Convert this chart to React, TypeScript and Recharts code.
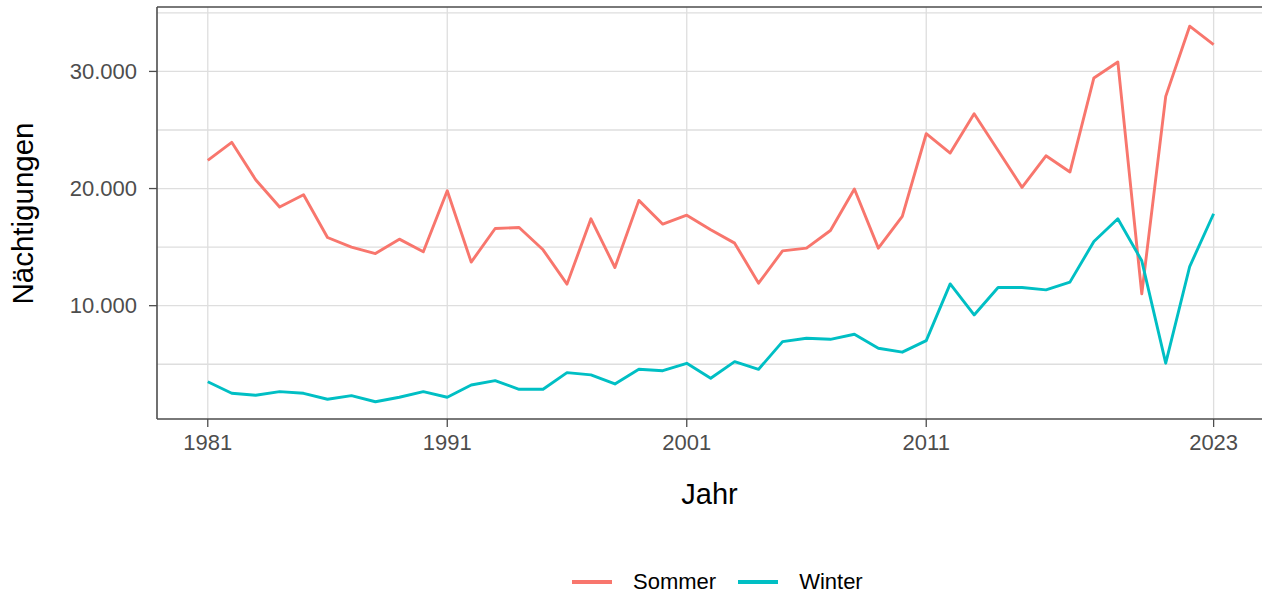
import { LineChart, Line, XAxis, YAxis, CartesianGrid, Legend } from 'recharts'

const years = [
  1981, 1982, 1983, 1984, 1985, 1986, 1987, 1988, 1989, 1990,
  1991, 1992, 1993, 1994, 1995, 1996, 1997, 1998, 1999, 2000,
  2001, 2002, 2003, 2004, 2005, 2006, 2007, 2008, 2009, 2010,
  2011, 2012, 2013, 2014, 2015, 2016, 2017, 2018, 2019, 2020,
  2021, 2022, 2023,
]

const sommer = [
  22400, 23950, 20750, 18420, 19470, 15820, 15000, 14450, 15680, 14600,
  19810, 13720, 16590, 16680, 14770, 11840, 17420, 13260, 18990, 16960,
  17730, 16480, 15340, 11920, 14680, 14910, 16420, 19960, 14910, 17620,
  24680, 23030, 26390, 23250, 20100, 22800, 21410, 29440, 30810, 11010,
  27870, 33860, 32290,
]

const winter = [
  3510, 2520, 2350, 2660, 2520, 2010, 2320, 1800, 2180, 2660,
  2180, 3230, 3600, 2860, 2860, 4280, 4090, 3320, 4570, 4450,
  5080, 3800, 5220, 4570, 6930, 7220, 7130, 7560, 6370, 6030,
  7020, 11860, 9210, 11550, 11550, 11350, 12010, 15480, 17420, 13830,
  5090, 13340, 17850,
]

const xTicks = [1981, 1991, 2001, 2011, 2023]
const yTicks = [10000, 20000, 30000]
const yGrid = [5000, 10000, 15000, 20000, 25000, 30000, 35000]

const data = years.map((year, i) => ({ year, Sommer: sommer[i], Winter: winter[i] }))

const FONT = '"Liberation Sans", Arial, sans-serif'
const AXIS = '#4d4d4d'
const GRID = '#dedede'

const fmt = (v: number) => String(v).replace(/\B(?=(\d{3})+(?!\d))/g, '.')

function LegendBox({ payload }: { payload?: Array<{ value: string; color: string }> }) {
  if (!payload) return null
  return (
    <div style={{ height: 34, paddingTop: 9, boxSizing: 'border-box', display: 'flex', justifyContent: 'flex-start', paddingLeft: 572 }}>
      {payload.map((p) => (
        <div key={p.value} style={{ display: 'flex', alignItems: 'center', height: 26, marginRight: 22 }}>
          <div style={{ width: 40, height: 4, background: p.color, marginRight: 21 }} />
          <span style={{ fontFamily: FONT, fontSize: 22, color: '#000', lineHeight: '26px' }}>{p.value}</span>
        </div>
      ))}
    </div>
  )
}

export default function App() {
  return (
    <div style={{ position: 'absolute', left: 0, top: 0, background: '#fff' }}>
      <LineChart width={1262} height={594} data={data} margin={{ top: 0, right: 0, left: 0, bottom: 0 }}>
        <CartesianGrid
          stroke={GRID}
          strokeWidth={1.3}
          horizontalValues={yGrid}
          verticalValues={xTicks}
        />
        <XAxis
          xAxisId="top"
          orientation="top"
          dataKey="year"
          type="number"
          domain={[1978.88, 2025.02]}
          height={7}
          tick={false}
          tickLine={false}
          axisLine={{ stroke: AXIS, strokeWidth: 1.6 }}
        />
        <XAxis
          dataKey="year"
          type="number"
          domain={[1978.88, 2025.02]}
          allowDataOverflow
          ticks={xTicks}
          interval={0}
          height={141}
          tickSize={8}
          tickMargin={7}
          axisLine={{ stroke: AXIS, strokeWidth: 1.6 }}
          tickLine={{ stroke: AXIS, strokeWidth: 1.3 }}
          tick={{ fill: AXIS, fontSize: 22, fontFamily: FONT }}
          label={(props: any) => {
            const vb = props.viewBox
            return (
              <text x={vb.x + vb.width / 2} y={504} textAnchor="middle" fontSize={29} fontFamily={FONT} fill="#000">
                Jahr
              </text>
            )
          }}
        />
        <YAxis
          type="number"
          domain={[325, 35500]}
          allowDataOverflow
          ticks={yTicks}
          interval={0}
          width={157}
          tickSize={8}
          tickMargin={12}
          tickFormatter={fmt}
          axisLine={{ stroke: AXIS, strokeWidth: 1.6 }}
          tickLine={{ stroke: AXIS, strokeWidth: 1.3 }}
          tick={{ fill: AXIS, fontSize: 22, fontFamily: FONT }}
          label={() => (
            <text
              x={33}
              y={213.5}
              transform="rotate(-90, 33, 213.5)"
              textAnchor="middle"
              fontSize={29.5}
              fontFamily={FONT}
              fill="#000"
            >
              Nächtigungen
            </text>
          )}
        />
        <Legend verticalAlign="bottom" content={<LegendBox />} />
        <Line
          type="linear"
          dataKey="Sommer"
          stroke="#F8766D"
          strokeWidth={2.9}
          strokeLinejoin="round"
          dot={false}
          isAnimationActive={false}
        />
        <Line
          type="linear"
          dataKey="Winter"
          stroke="#00BFC4"
          strokeWidth={2.9}
          strokeLinejoin="round"
          dot={false}
          isAnimationActive={false}
        />
      </LineChart>
    </div>
  )
}
